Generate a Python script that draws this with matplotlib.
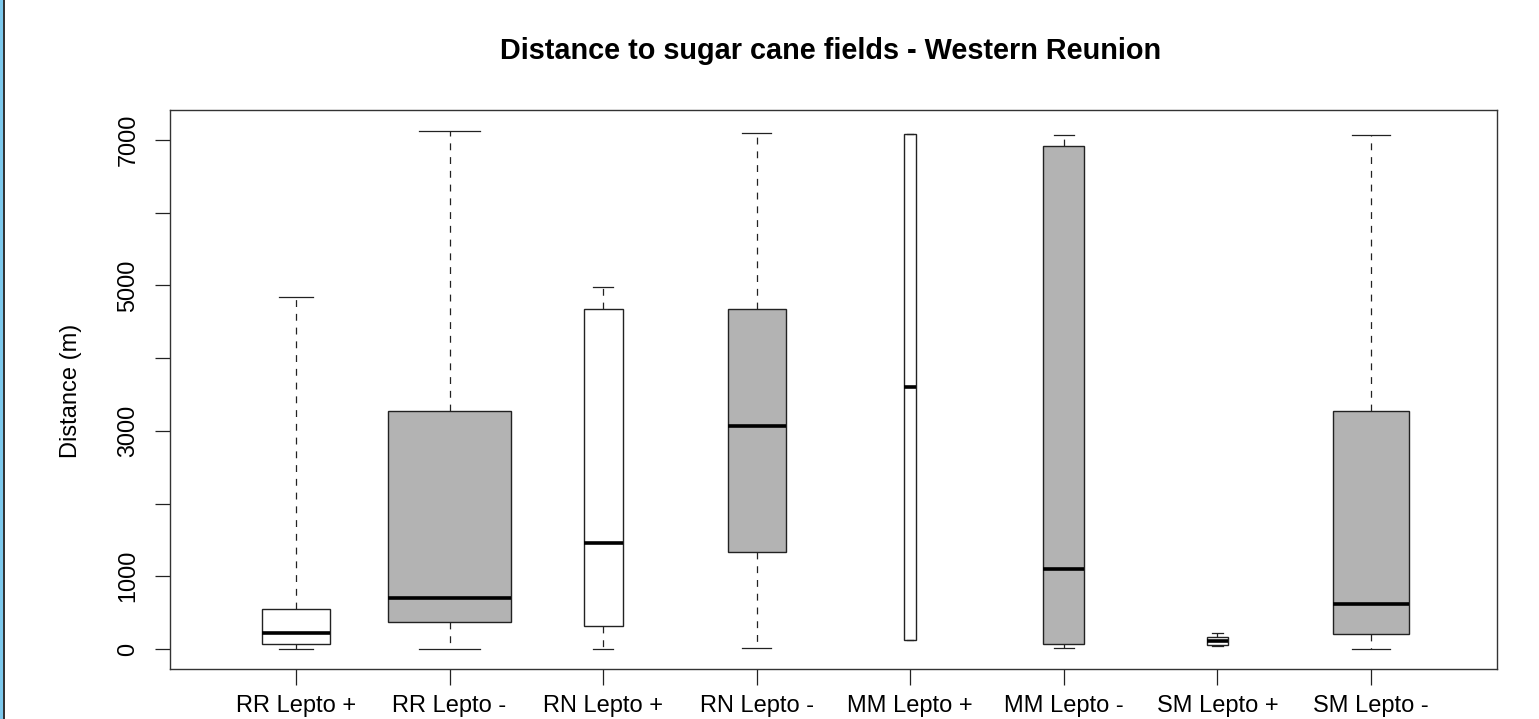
import matplotlib
matplotlib.use('Agg')
import matplotlib.pyplot as plt
from matplotlib.patches import Rectangle

plt.rcParams['font.family'] = ['Liberation Sans', 'DejaVu Sans']

# Données (m)
groupes = ['RR Lepto +', 'RR Lepto -', 'RN Lepto +', 'RN Lepto -',
           'MM Lepto +', 'MM Lepto -', 'SM Lepto +', 'SM Lepto -']
whis_bas = [0, 0, 0, 20, 125, 15, 40, 0]
q1 = [70, 375, 315, 1330, 125, 70, 55, 205]
mediane = [220, 700, 1460, 3070, 3600, 1100, 105, 620]
q3 = [550, 3270, 4680, 4680, 7080, 6920, 160, 3270]
whis_haut = [4840, 7125, 4980, 7100, 7080, 7070, 220, 7070]
# largeurs relatives (varwidth)
largeurs = [0.44, 0.80, 0.254, 0.377, 0.078, 0.267, 0.137, 0.494]
couleurs = ['white', '#b3b3b3'] * 4

stats = []
for i in range(len(groupes)):
    stats.append({'whislo': whis_bas[i], 'q1': q1[i], 'med': mediane[i],
                  'q3': q3[i], 'whishi': whis_haut[i], 'fliers': [],
                  'label': groupes[i]})

fig = plt.figure(figsize=(15.39, 7.19), dpi=100)
ax = fig.add_axes([170 / 1539, 1 - 669 / 719, 1327 / 1539, 559 / 719])

pos = list(range(1, len(groupes) + 1))
bp = ax.bxp(stats, positions=pos, widths=largeurs,
            capwidths=[w / 2 for w in largeurs], patch_artist=True,
            showfliers=False,
            boxprops=dict(edgecolor='#222222', linewidth=1.0),
            medianprops=dict(color='black', linewidth=2.6, solid_capstyle='butt'),
            whiskerprops=dict(color='#222222', linewidth=0.9, linestyle=(0, (5.5, 5.5))),
            capprops=dict(color='#222222', linewidth=0.9))
for box, c in zip(bp['boxes'], couleurs):
    box.set_facecolor(c)

ax.set_xlim(0.18, 8.82)
ax.set_ylim(-275, 7413)

ax.set_yticks(range(0, 8000, 1000))
ax.set_yticklabels(['0', '1000', '', '3000', '', '5000', '', '7000'],
                   rotation=90, va='center', fontsize=16.8)
ax.tick_params(axis='y', length=11, width=0.9, pad=11, color='#222222')
# étiquettes x remontées un peu pour rester entières dans l'image
ax.tick_params(axis='x', length=11.5, width=0.9, pad=7, color='#222222',
               labelsize=17)
for s in ax.spines.values():
    s.set_color('#333333')
    s.set_linewidth(1.0)

fig.text(831 / 1539, 1 - 59 / 719, 'Distance to sugar cane fields - Western Reunion',
         ha='center', va='baseline', fontsize=20.8, fontweight='bold')
fig.text(71 / 1539, 1 - 391 / 719, 'Distance (m)', rotation=90,
         ha='center', va='center', fontsize=17)

# bordure bleue à gauche
fig.patches.append(Rectangle((0, 0), 3 / 1539, 1, transform=fig.transFigure,
                             facecolor='#7cc8ec', edgecolor='none'))
fig.patches.append(Rectangle((3 / 1539, 0), 1.5 / 1539, 1, transform=fig.transFigure,
                             facecolor='#333333', edgecolor='none'))

fig.savefig('out.png', dpi=100)
